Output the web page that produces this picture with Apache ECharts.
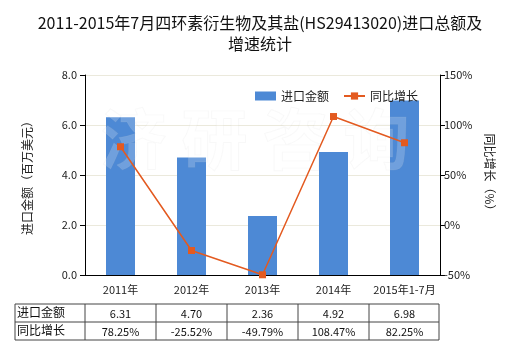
<!DOCTYPE html>
<html><head><meta charset="utf-8">
<script src="https://cdn.jsdelivr.net/npm/echarts@6/dist/echarts.min.js"></script>
<style>html,body{margin:0;padding:0;background:#fff}#c{width:520px;height:350px}</style>
</head><body><div id="c"></div>
<script>
var categories = ['2011年', '2012年', '2013年', '2014年', '2015年1-7月'];
var importValues = [6.31, 4.70, 2.36, 4.92, 6.98];
var growthValues = [78.25, -25.52, -49.79, 108.47, 82.25];
var importLabels = ['6.31', '4.70', '2.36', '4.92', '6.98'];
var growthLabels = ['78.25%', '-25.52%', '-49.79%', '108.47%', '82.25%'];
var leftTicks = [0, 2, 4, 6, 8];
var rightTicks = [-50, 0, 50, 100, 150];

var FONT = '"Noto Sans CJK SC", "Noto Sans", sans-serif';
var G = {left: 85, right: 80, top: 75, bottom: 75};
var chart = echarts.init(document.getElementById('c'));
var option = {
  animation: false,
  textStyle: {fontFamily: FONT},
  title: {
    text: '2011-2015年7月四环素衍生物及其盐(HS29413020)进口总额及\n增速统计',
    left: 'center', top: 7,
    textStyle: {fontSize: 16, fontWeight: 'normal', color: '#111', lineHeight: 21, fontFamily: FONT}
  },
  legend: {
    left: 250, top: 85, itemWidth: 21, itemHeight: 9, itemGap: 14,
    textStyle: {fontSize: 12, color: '#222', fontFamily: FONT},
    data: [{name: '进口金额', icon: 'rect'}, {name: '同比增长'}]
  },
  grid: {left: G.left, right: G.right, top: G.top, bottom: G.bottom},
  xAxis: {
    type: 'category', data: categories,
    axisLine: {lineStyle: {color: '#000'}},
    axisTick: {alignWithLabel: true, lineStyle: {color: '#000'}},
    axisLabel: {fontSize: 11, color: '#222', margin: 9, interval: 0, hideOverlap: false, fontFamily: FONT}
  },
  yAxis: [{
    type: 'value', min: leftTicks[0], max: leftTicks[leftTicks.length - 1], interval: 2,
    name: '进口金额（百万美元）', nameLocation: 'middle', nameGap: 52, nameRotate: 90,
    nameTextStyle: {fontSize: 12, color: '#222', fontFamily: FONT},
    axisLine: {show: true, lineStyle: {color: '#000'}},
    axisTick: {show: true, lineStyle: {color: '#000'}},
    axisLabel: {fontSize: 11, color: '#222', formatter: function (v) { return v.toFixed(1); }},
    splitLine: {lineStyle: {color: '#ebe9dc'}}
  }, {
    type: 'value', min: rightTicks[0], max: rightTicks[rightTicks.length - 1], interval: 50,
    name: '同比增长（%）', nameLocation: 'middle', nameGap: 42, nameRotate: -90,
    nameTextStyle: {fontSize: 12, color: '#222', fontFamily: FONT},
    axisLine: {show: true, lineStyle: {color: '#000'}},
    axisTick: {show: true, lineStyle: {color: '#000'}},
    axisLabel: {fontSize: 11, color: '#222', margin: 4, formatter: '{value}%'},
    splitLine: {show: false}
  }],
  series: [{
    name: '进口金额', type: 'bar', data: importValues, barWidth: 29,
    itemStyle: {color: '#4d89d5'}, z: 2
  }, {
    name: '同比增长', type: 'line', yAxisIndex: 1, data: growthValues,
    symbol: 'rect', symbolSize: 7,
    lineStyle: {color: '#e35a20', width: 1.5},
    itemStyle: {color: '#e35a20'}, z: 4
  }]
};
chart.setOption(option);

// watermark + data table below the plot
var gx0 = G.left, gx1 = 520 - G.right;
var tLeft = 15, tTop = 304, rowH = 18;
var els = [];
els.push({
  type: 'text', left: 100, top: 105, z: 3, silent: true,
  style: {text: '济 研 咨 询', fontSize: 66, fontWeight: 'bold', fontFamily: FONT,
    fill: 'rgba(255,255,255,0.2)', stroke: 'rgba(190,190,190,0.1)', lineWidth: 1}
});
var lineColor = '#444';
var xs = [tLeft, gx0];
var step = (gx1 - gx0) / categories.length;
for (var i = 0; i < categories.length; i++) {
  xs.push(gx0 + step * (i + 1));
}
for (var r = 0; r < 3; r++) {
  els.push({type: 'line', shape: {x1: tLeft, y1: tTop + r * rowH, x2: gx1 - 1, y2: tTop + r * rowH},
    style: {stroke: lineColor, lineWidth: 1}});
}
for (var k = 0; k < xs.length; k++) {
  var xx = k === xs.length - 1 ? xs[k] - 1 : xs[k];
  els.push({type: 'line', shape: {x1: xx, y1: tTop, x2: xx, y2: tTop + 2 * rowH},
    style: {stroke: lineColor, lineWidth: 1}});
}
var rowNames = ['进口金额', '同比增长'];
var rowVals = [importLabels, growthLabels];
for (var r2 = 0; r2 < 2; r2++) {
  els.push({type: 'text', x: tLeft + 2, y: tTop + r2 * rowH + rowH / 2 - 1,
    style: {text: rowNames[r2], fontSize: 12, fontFamily: FONT, fill: '#111', verticalAlign: 'middle', align: 'left'}});
  for (var j = 0; j < categories.length; j++) {
    var cx = chart.convertToPixel({xAxisIndex: 0}, categories[j]);
    els.push({type: 'text', x: cx, y: tTop + r2 * rowH + rowH / 2 + 1,
      style: {text: rowVals[r2][j], fontSize: 11, fontFamily: FONT, fill: '#111', verticalAlign: 'middle', align: 'center'}});
  }
}
chart.setOption({graphic: els});
</script>
</body></html>
